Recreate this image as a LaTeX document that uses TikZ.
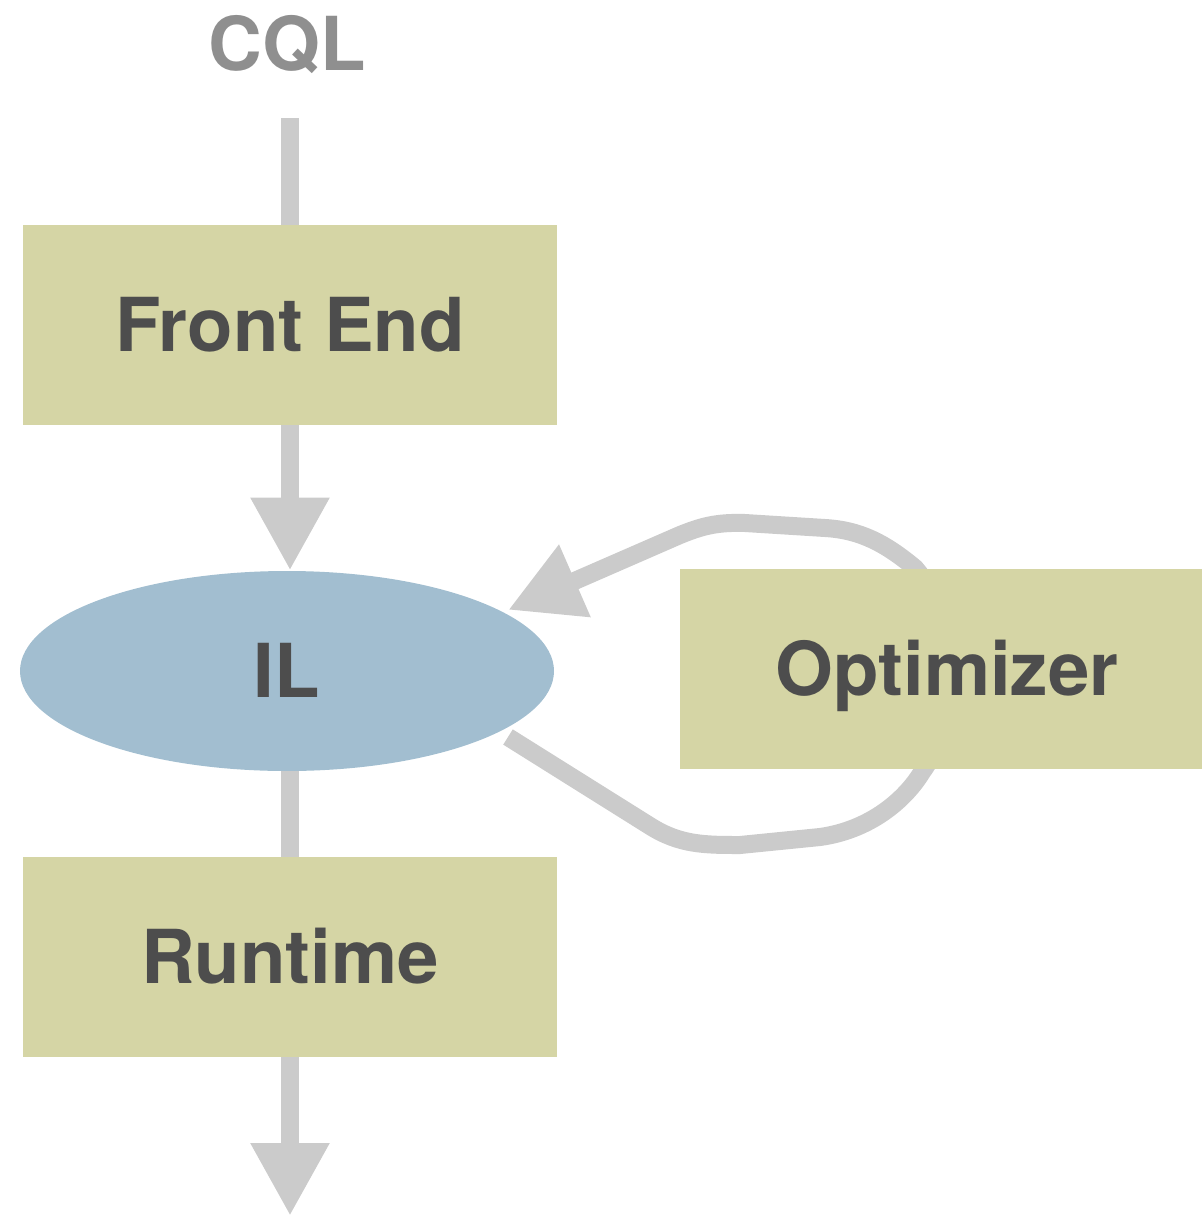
\documentclass[tikz,border=0pt]{standalone}
\usepackage{fontspec}
\setmainfont{TeX Gyre Heros}
\usetikzlibrary{arrows.meta,shapes.geometric}
\definecolor{boxfill}{HTML}{D5D5A5}
\definecolor{ilfill}{HTML}{A2BED0}
\definecolor{flowgray}{HTML}{CBCBCB}
\definecolor{labeltext}{HTML}{4D4D4D}
\definecolor{srctext}{HTML}{8F8F8F}
\pgfdeclarelayer{back}
\pgfsetlayers{back,main}
\begin{document}
\begin{tikzpicture}[
  x=0.5pt, y=-0.5pt,
  bigfont/.style={font=\fontsize{37.2}{40}\selectfont\bfseries},
  stage/.style={bigfont, fill=boxfill, draw=none, inner sep=0pt,
    minimum width=267pt, minimum height=100pt,
    text=labeltext, text height=26.6pt, text depth=0pt},
  repr/.style={bigfont, ellipse, fill=ilfill, draw=none, inner sep=0pt,
    minimum width=267pt, minimum height=100pt,
    text=labeltext, text height=26.6pt, text depth=0pt},
  flow/.style={draw=flowgray, line width=9pt, line cap=butt},
  head/.style={-{Triangle[length=36.5pt,width=37pt]}}
]
\useasboundingbox (0,0) rectangle (1201,1216);

% input label and pipeline stages
\node[bigfont, text=srctext, anchor=base, inner sep=0pt] (cql) at (287,70) {CQL};
\node[stage] (fe) at (290,325) {Front End};
\node[repr]  (il) at (287,671) {IL};
\node[stage] (rt) at (290,957) {Runtime};
\node[stage] (opt) at (947,669) {Optimizer};

% free ends of connectors
\coordinate (cqlend) at (290,118);
\coordinate (result) at (290,1216);
\coordinate (loopout) at (508,737);
\coordinate (loopin) at (508,610);

% vertical flow
\draw[flow] (cqlend) -- (fe.north);
\draw[flow, head] (fe.south) -- (fe.south |- il.north);
\draw[flow] (rt.north |- il.south) -- (rt.north);
\draw[flow, head] (rt.south) -- (result);

% optimisation loop, passing behind the optimizer box
\begin{pgfonlayer}{back}
\draw[flow, head] (loopout) -- (650,826)
  .. controls (680,845) and (705,845) .. (740,845)
  -- (820,837)
  .. controls (870,830) and (905,800) .. (922,772)
  .. controls (960,720) and (960,620) .. (915,568)
  .. controls (885,543) and (860,530) .. (825,528)
  -- (745,523)
  .. controls (715,522) and (700,527) .. (680,535)
  -- (loopin);
\end{pgfonlayer}
\end{tikzpicture}
\end{document}
